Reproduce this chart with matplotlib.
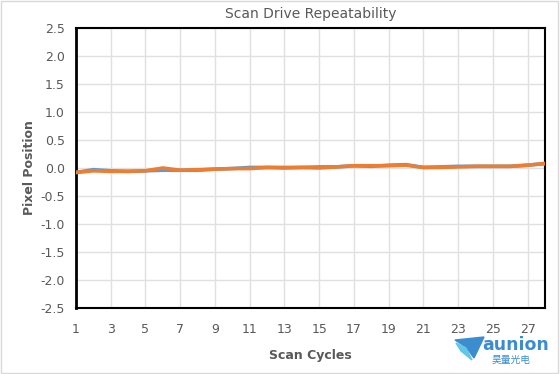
import matplotlib.pyplot as plt
from matplotlib.patches import Polygon, Rectangle

cycles = list(range(1, 29))
series_blue = [-0.08, -0.03, -0.05, -0.06, -0.05, -0.04, -0.04, -0.04, -0.02, -0.01,
               0.01, 0.01, 0.01, 0.01, 0.02, 0.02, 0.04, 0.03, 0.05, 0.06,
               0.01, 0.02, 0.03, 0.03, 0.03, 0.03, 0.05, 0.08]
series_orange = [-0.08, -0.05, -0.06, -0.06, -0.05, 0.00, -0.04, -0.03, -0.02, -0.01,
                 -0.01, 0.01, 0.00, 0.01, 0.00, 0.02, 0.04, 0.04, 0.04, 0.05,
                 0.01, 0.01, 0.02, 0.03, 0.03, 0.03, 0.05, 0.08]
x_ticks = list(range(1, 28, 2))
y_ticks = [-2.5, -2.0, -1.5, -1.0, -0.5, 0.0, 0.5, 1.0, 1.5, 2.0, 2.5]

W, H = 560, 374
text_gray = "#595959"

fig = plt.figure(figsize=(W / 100, H / 100), dpi=100)
ax = fig.add_axes([76 / W, 1 - 308 / H, (545 - 76) / W, (308 - 28) / H])

ax.plot(cycles, series_blue, color="#5B9BD5", lw=2.6, solid_capstyle="round", zorder=3)
ax.plot(cycles, series_orange, color="#ED7D31", lw=2.6, solid_capstyle="round", zorder=4)

ax.set_xlim(1, 28)
ax.set_ylim(-2.5, 2.5)
ax.set_xticks(x_ticks)
ax.set_yticks(y_ticks)
ax.set_yticklabels([f"{v:.1f}" for v in y_ticks])
ax.grid(True, color="#E0E0E0", lw=1)
ax.set_axisbelow(True)
ax.tick_params(length=0, labelsize=9, colors=text_gray)
ax.tick_params(axis="x", pad=11)
ax.tick_params(axis="y", pad=8)
for name, sp in ax.spines.items():
    sp.set_color("black")
    sp.set_linewidth(1.5)
ax.spines["left"].set_linewidth(2)

ax.set_xlabel("Scan Cycles", fontsize=9, fontweight="bold", color=text_gray, labelpad=9)
ax.set_ylabel("Pixel Position", fontsize=9, fontweight="bold", color=text_gray, labelpad=3)
fig.text(311 / W, 1 - 14 / H, "Scan Drive Repeatability", ha="center", va="center",
         fontsize=10, color=text_gray)

# outer border
fig.patches.append(Rectangle((0.002, 0.003), 0.995, 0.994, transform=fig.transFigure,
                             fill=False, edgecolor="#D9D9D9", lw=1))

# logo
def fp(pts):
    return [(x / W, 1 - y / H) for x, y in pts]

fig.patches.append(Polygon(fp([(455, 340), (484, 337), (474, 358), (466, 347)]),
                           closed=True, transform=fig.transFigure, color="#3C8DD0"))
fig.patches.append(Polygon(fp([(456, 343), (466, 348), (472, 360), (461, 351)]),
                           closed=True, transform=fig.transFigure, color="#62C6E8"))
fig.text(516 / W, 1 - 345 / H, "aunion", ha="center", va="center", fontsize=12.5,
         fontweight="bold", color="#3C8DD0", family="DejaVu Sans")
fig.text(511 / W, 1 - 360 / H, "昊量光电", ha="center", va="center", fontsize=7,
         color="#3C8DD0", family=["Noto Sans CJK SC", "DejaVu Sans"])

fig.savefig("out.png", dpi=100)
